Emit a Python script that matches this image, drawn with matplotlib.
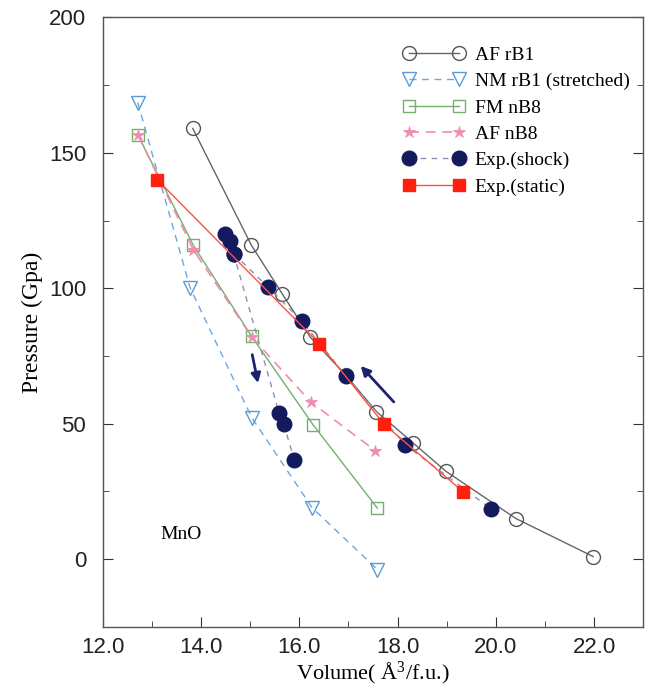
import numpy as np
import matplotlib
matplotlib.use('Agg')
import matplotlib.pyplot as plt
from matplotlib.ticker import FixedLocator

# data
af_rb1_v = [13.83, 15.02, 15.65, 16.22, 16.94, 17.57, 18.31, 18.98, 20.41, 21.98]
af_rb1_p = [159, 116, 98, 82, 68, 54.5, 43, 32.5, 15, 1]

nm_rb1_v = [12.71, 13.78, 15.03, 16.26, 17.59]
nm_rb1_p = [168.5, 100, 52.3, 19, -3.8]

fm_nb8_v = [12.71, 13.84, 15.03, 16.28, 17.59]
fm_nb8_p = [156.7, 115.9, 82.2, 49.6, 18.8]

af_nb8_v = [12.71, 13.84, 15.03, 16.24, 17.55]
af_nb8_p = [156.7, 114.3, 82.0, 57.9, 40.0]

shock_hi_v = [14.49, 14.59, 14.66, 15.37, 16.05, 16.94, 18.16, 19.90]
shock_hi_p = [120.2, 117.5, 112.8, 100.3, 87.9, 67.8, 42.1, 18.6]
shock_lo_v = [14.66, 15.59, 15.68, 15.90]
shock_lo_p = [112.8, 53.8, 49.9, 36.6]

static_v = [13.11, 16.41, 17.72, 19.34]
static_p = [140.0, 79.5, 49.9, 24.8]

serif = ['Liberation Serif', 'DejaVu Serif']
sans = ['Liberation Sans', 'DejaVu Sans']

fig = plt.figure(figsize=(6.51, 6.92), dpi=100)
ax = fig.add_axes([0.158, 0.094, 0.830, 0.881])

ax.plot(af_rb1_v, af_rb1_p, '-', color='#666666', lw=1.0, marker='o', ms=10,
        mfc='none', mec='#555555', mew=1.0, label='AF rB1')
ax.plot(nm_rb1_v, nm_rb1_p, '--', color='#6fa6dc', lw=1.0, marker='v', ms=10,
        mfc='none', mec='#5b9bd5', mew=1.0, label='NM rB1 (stretched)', dashes=(5, 4))
ax.plot(fm_nb8_v, fm_nb8_p, '-', color='#74b06c', lw=1.0, marker='s', ms=8,
        mfc='none', mec='#74b06c', mew=1.0, label='FM nB8')
ax.plot(af_nb8_v, af_nb8_p, '--', color='#f38bb0', lw=1.2, marker='*', ms=9,
        mfc='#f38bb0', mec='#f38bb0', mew=0.6, label='AF nB8', dashes=(6, 4))
ax.plot(shock_hi_v, shock_hi_p, '--', color='#8a90b4', lw=1.0, marker='o', ms=10.5,
        mfc='#141a5e', mec='#141a5e', label='Exp.(shock)', dashes=(4, 4))
ax.plot(shock_lo_v, shock_lo_p, '--', color='#8a90b4', lw=1.0, marker='o', ms=10.5,
        mfc='#141a5e', mec='#141a5e', dashes=(4, 4))
ax.plot(static_v, static_p, '-', color='#ff5040', lw=1.0, marker='s', ms=8,
        mfc='#ff2010', mec='#ff2010', label='Exp.(static)')

# arrows
ax.annotate('', xy=(15.17, 64), xytext=(15.03, 76.5),
            arrowprops=dict(arrowstyle='-|>', color='#1c2270', lw=2, mutation_scale=14))
ax.annotate('', xy=(17.21, 72.1), xytext=(17.96, 57.3),
            arrowprops=dict(arrowstyle='-|>', color='#1c2270', lw=2, mutation_scale=14))

ax.text(13.6, 9, 'MnO', family=serif, fontsize=14, ha='center', va='center')

ax.set_xlim(12, 23)
ax.set_ylim(-25, 200)
ax.xaxis.set_major_locator(FixedLocator([12, 14, 16, 18, 20, 22]))
ax.xaxis.set_minor_locator(FixedLocator([13, 15, 17, 19, 21]))
ax.yaxis.set_major_locator(FixedLocator([0, 50, 100, 150, 200]))
ax.yaxis.set_minor_locator(FixedLocator([25, 75, 125, 175]))
ax.set_xticklabels(['12.0', '14.0', '16.0', '18.0', '20.0', '22.0'])
ax.tick_params(which='both', direction='in', top=False, right=True,
               colors='#333333', labelsize=16)
ax.tick_params(axis='y', pad=12)
ax.tick_params(axis='x', pad=7)
ax.tick_params(which='major', length=7)
ax.tick_params(which='minor', length=4)
for lab in ax.get_xticklabels() + ax.get_yticklabels():
    lab.set_family(sans)
    lab.set_color('#222222')
for s in ax.spines.values():
    s.set_color('#555555')
    s.set_linewidth(1.0)

ax.set_xlabel('Volume( $\\mathregular{\\AA^3}$/f.u.)', family=serif, fontsize=16, labelpad=2)
ax.set_ylabel('Pressure (Gpa)', family=serif, fontsize=17, labelpad=4)

leg = ax.legend(loc='upper right', bbox_to_anchor=(1.0, 0.975), frameon=False, numpoints=2,
                prop={'family': serif, 'size': 14}, handlelength=3.2,
                handletextpad=0.5, labelspacing=0.45, borderaxespad=0.3)

fig.savefig('out.png', dpi=100)
